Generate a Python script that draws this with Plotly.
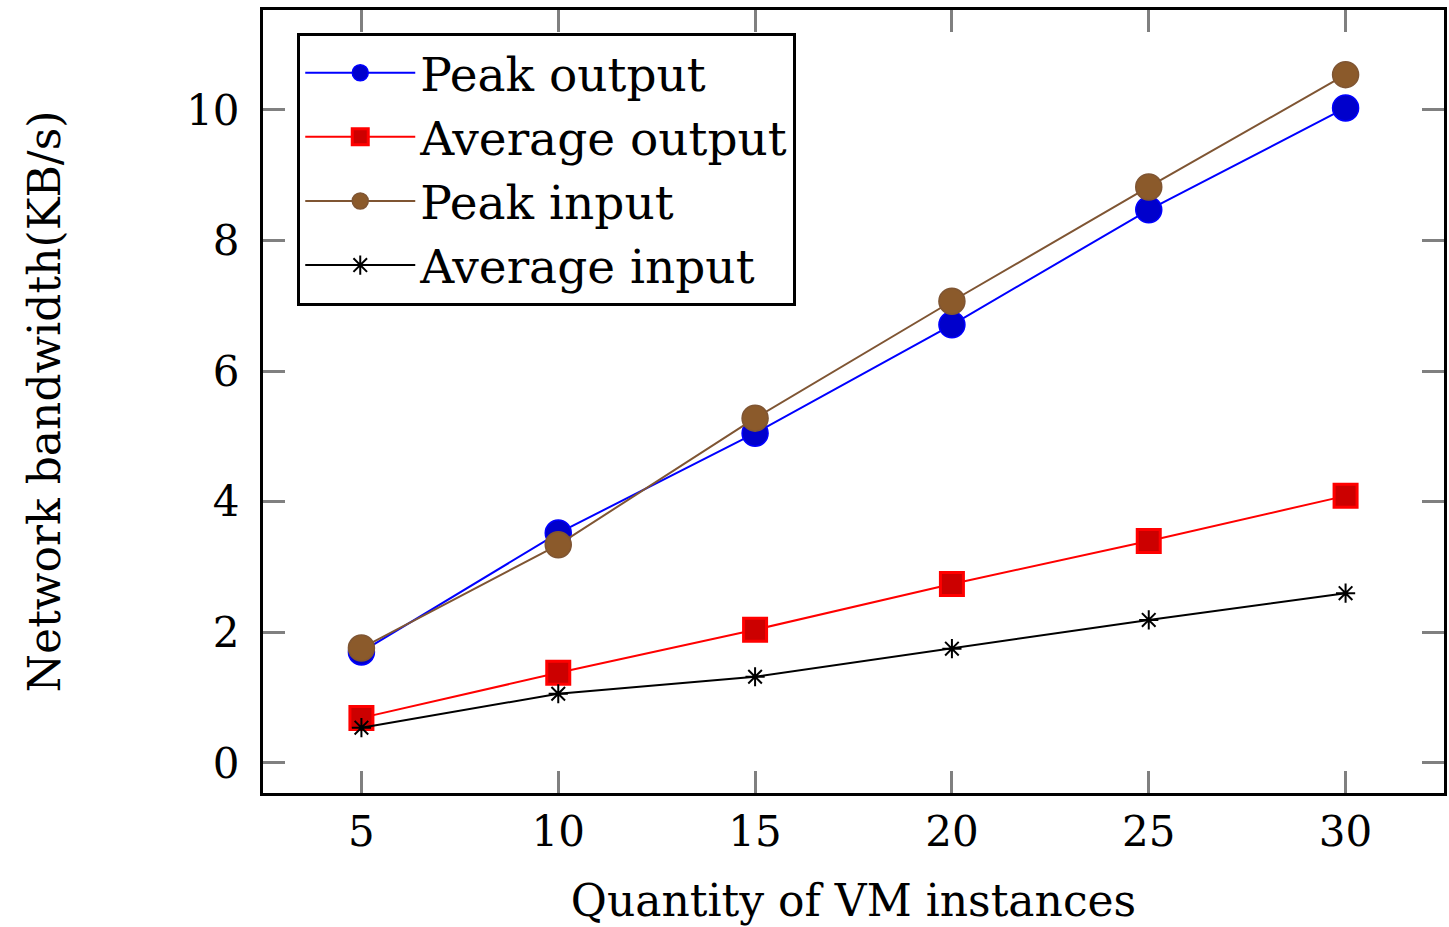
import plotly.graph_objects as go

vm_instances = [5, 10, 15, 20, 25, 30]
peak_output = [1.70, 3.52, 5.05, 6.71, 8.47, 10.03]
average_output = [0.69, 1.38, 2.04, 2.74, 3.40, 4.09]
peak_input = [1.76, 3.34, 5.28, 7.07, 8.82, 10.54]
average_input = [0.54, 1.06, 1.32, 1.75, 2.19, 2.60]

x_ticks = [5, 10, 15, 20, 25, 30]
y_ticks = [0, 2, 4, 6, 8, 10]

FONT = "DejaVu Serif"

fig = go.Figure()
fig.add_trace(go.Scatter(
    x=vm_instances, y=peak_output, name="Peak output", mode="lines+markers",
    line=dict(color="#0000ff", width=2),
    marker=dict(symbol="circle", size=26, color="#0000cc", line=dict(color="#0000ff", width=1.5))))
fig.add_trace(go.Scatter(
    x=vm_instances, y=average_output, name="Average output", mode="lines+markers",
    line=dict(color="#ff0000", width=2),
    marker=dict(symbol="square", size=23, color="#cc0000", line=dict(color="#ff0000", width=3))))
fig.add_trace(go.Scatter(
    x=vm_instances, y=peak_input, name="Peak input", mode="lines+markers",
    line=dict(color="#7f5533", width=2),
    marker=dict(symbol="circle", size=26, color="#8b5a2b", line=dict(color="#7f5533", width=1.5))))
fig.add_trace(go.Scatter(
    x=vm_instances, y=average_input, name="Average input", mode="lines+markers",
    line=dict(color="#000000", width=2),
    marker=dict(symbol="asterisk-open", size=16, color="#000000", line=dict(color="#000000", width=2))))

axis_common = dict(
    showgrid=False, zeroline=False, showline=True, linecolor="black", linewidth=3,
    mirror="ticks", ticks="inside", ticklen=22, tickwidth=3, tickcolor="#808080",
    tickfont=dict(family=FONT, size=42, color="black"),
)

fig.update_layout(
    width=1449, height=927,
    paper_bgcolor="white", plot_bgcolor="white",
    margin=dict(l=263, r=2, t=10, b=134),
    font=dict(family=FONT, color="black"),
    xaxis=dict(range=[2.5, 32.5], tickvals=x_ticks, ticktext=[str(v) for v in x_ticks],
               title=dict(text="Quantity of VM instances", font=dict(family=FONT, size=44), standoff=30),
               **axis_common),
    yaxis=dict(range=[-0.46, 11.53], tickvals=y_ticks, ticktext=[str(v) for v in y_ticks],
               ticklabelstandoff=12,
               title=dict(text="Network bandwidth(KB/s)", font=dict(family=FONT, size=44), standoff=112),
               **axis_common),
    legend=dict(x=0.029, y=0.971, xanchor="left", yanchor="top",
                bordercolor="black", borderwidth=3, bgcolor="white",
                font=dict(family=FONT, size=47, color="black"),
                itemwidth=110, tracegroupgap=0),
    showlegend=True,
)

fig.write_html("out.html", config={"displayModeBar": False},
               post_script="document.body.style.margin='0';")
